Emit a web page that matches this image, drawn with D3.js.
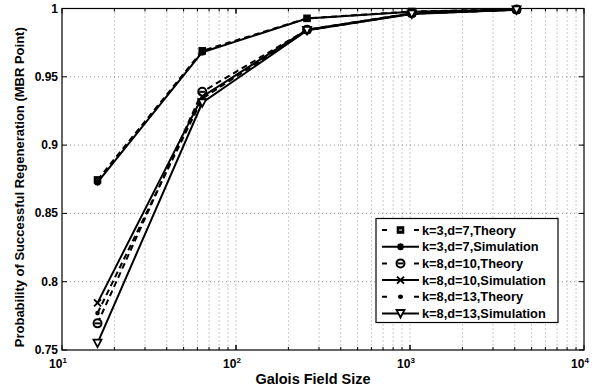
<!DOCTYPE html>
<html lang="en">
<head>
<meta charset="UTF-8">
<title>Probability of Successful Regeneration</title>
<style>
* { margin: 0; padding: 0; box-sizing: border-box; }
body { background: #fff; font-family: "Liberation Sans", Arial, Helvetica, sans-serif; }
svg { display: block; }
.tick-label { font-size: 12px; font-weight: bold; fill: #000; }
.axis-title { font-size: 14.5px; font-weight: bold; fill: #000; }
.y-title { font-size: 13px; font-weight: bold; fill: #000; }
.grid { stroke: #000; stroke-width: 0.6; stroke-dasharray: 1 3; opacity: 0.7; }
.legend-text { font-size: 12.8px; font-weight: bold; fill: #000; }
</style>
</head>
<body>
<div id="chart"></div>
<script src="https://d3js.org/d3.v7.min.js"></script>
<script>
// Galois field sizes (x) and success probabilities per curve
var fieldSizes = [16, 64, 256, 1024, 4096];

var k3d7Theory = [0.8745, 0.969, 0.9928, 0.9978, 0.9994];
var k3d7Sim = [0.8728, 0.968, 0.9926, 0.9977, 0.9994];
var k8d10Theory = [0.7695, 0.9390, 0.9845, 0.9965, 0.9992];
var k8d10Sim = [0.7845, 0.9355, 0.9845, 0.9963, 0.9991];
var k8d13Theory = [0.7770, 0.9340, 0.9840, 0.9962, 0.9991];
var k8d13Sim = [0.7550, 0.9310, 0.9840, 0.9960, 0.9990];

var yTicks = [0.75, 0.8, 0.85, 0.9, 0.95, 1];
var yTickLabels = ["0.75", "0.8", "0.85", "0.9", "0.95", "1"];
var xDecades = [10, 100, 1000, 10000];
var xDecadeExps = ["1", "2", "3", "4"];

var series = [
	{ name: "k=3,d=7,Theory", values: k3d7Theory, dashed: true, marker: "square" },
	{ name: "k=3,d=7,Simulation", values: k3d7Sim, dashed: false, marker: "star" },
	{ name: "k=8,d=10,Theory", values: k8d10Theory, dashed: true, marker: "circle" },
	{ name: "k=8,d=10,Simulation", values: k8d10Sim, dashed: false, marker: "x" },
	{ name: "k=8,d=13,Theory", values: k8d13Theory, dashed: true, marker: "dot" },
	{ name: "k=8,d=13,Simulation", values: k8d13Sim, dashed: false, marker: "tri" }
];

var width = 614, height = 389;
var margin = { top: 8.5, right: 30, bottom: 39, left: 62 };
var plotW = width - margin.left - margin.right;
var plotH = height - margin.top - margin.bottom;

var svg = d3.select("#chart").append("svg")
	.attr("width", width)
	.attr("height", height);

var g = svg.append("g").attr("transform", "translate(" + margin.left + "," + margin.top + ")");

var x = d3.scaleLog().domain([10, 10000]).range([0, plotW]);
var y = d3.scaleLinear().domain([0.75, 1]).range([plotH, 0]);

// Minor + major x grid
var xGridVals = [];
for (var d = 10; d < 10000; d *= 10) {
	for (var m = 1; m <= 9; m++) {
		if (d * m > 10) xGridVals.push(d * m);
	}
}
g.append("g").selectAll("line").data(xGridVals).join("line")
	.attr("class", "grid")
	.attr("x1", function(v) { return x(v); })
	.attr("x2", function(v) { return x(v); })
	.attr("y1", 0).attr("y2", plotH);

g.append("g").selectAll("line").data(yTicks.slice(1, -1)).join("line")
	.attr("class", "grid")
	.attr("x1", 0).attr("x2", plotW)
	.attr("y1", function(v) { return y(v); })
	.attr("y2", function(v) { return y(v); });

// Ticks (inward on all four sides)
var tickG = g.append("g").attr("stroke", "#000").attr("stroke-width", 1);
yTicks.forEach(function(v) {
	tickG.append("line").attr("x1", 0).attr("x2", 5).attr("y1", y(v)).attr("y2", y(v));
	tickG.append("line").attr("x1", plotW).attr("x2", plotW - 5).attr("y1", y(v)).attr("y2", y(v));
});
xGridVals.concat(xDecades).forEach(function(v) {
	var len = xDecades.indexOf(v) >= 0 ? 5 : 3;
	tickG.append("line").attr("x1", x(v)).attr("x2", x(v)).attr("y1", plotH).attr("y2", plotH - len);
	tickG.append("line").attr("x1", x(v)).attr("x2", x(v)).attr("y1", 0).attr("y2", len);
});

// Frame
g.append("rect").attr("x", 0).attr("y", 0).attr("width", plotW).attr("height", plotH)
	.attr("fill", "none").attr("stroke", "#000").attr("stroke-width", 1.2);

// Tick labels
g.append("g").selectAll("text").data(yTicks).join("text")
	.attr("class", "tick-label")
	.attr("x", -4)
	.attr("y", function(v) { return y(v) + 4; })
	.attr("text-anchor", "end")
	.text(function(v, i) { return yTickLabels[i]; });

var xl = g.append("g").selectAll("text").data(xDecades).join("text")
	.attr("class", "tick-label")
	.attr("x", function(v) { return x(v) - 4; })
	.attr("y", plotH + 18)
	.attr("text-anchor", "middle");
xl.append("tspan").text("10");
xl.append("tspan").attr("dy", -5).attr("font-size", 8).text(function(v, i) { return xDecadeExps[i]; });

// Axis titles
svg.append("text").attr("class", "axis-title")
	.attr("x", 313).attr("y", 384)
	.attr("text-anchor", "middle")
	.text("Galois Field Size");

svg.append("text").attr("class", "y-title")
	.attr("transform", "translate(24," + (margin.top + plotH / 2 + 8) + ") rotate(-90)")
	.attr("text-anchor", "middle")
	.text("Probability of Successful Regeneration (MBR Point)");

// Markers
function drawMarker(sel, type, cx, cy) {
	var s = sel.append("g").attr("transform", "translate(" + cx + "," + cy + ")")
		.attr("stroke", "#000").attr("stroke-width", 1.6).attr("fill", "none");
	if (type === "square") {
		s.append("rect").attr("x", -3).attr("y", -3).attr("width", 6).attr("height", 6).attr("fill", "#000");
		s.append("line").attr("x1", -1.5).attr("x2", 1.5).attr("y1", 0).attr("y2", 0).attr("stroke", "#fff").attr("stroke-width", 1);
	} else if (type === "star") {
		s.append("path").attr("d", "M-3.5,0H3.5M0,-3.5V3.5M-2.5,-2.5L2.5,2.5M-2.5,2.5L2.5,-2.5").attr("stroke-width", 2);
	} else if (type === "circle") {
		s.append("circle").attr("r", 4).attr("fill", "#fff").attr("stroke-width", 2);
		s.append("line").attr("x1", -3).attr("x2", 3).attr("y1", 0).attr("y2", 0).attr("stroke-width", 2);
	} else if (type === "x") {
		s.append("path").attr("d", "M-3.5,-3.5L3.5,3.5M-3.5,3.5L3.5,-3.5").attr("stroke-width", 2);
	} else if (type === "dot") {
		s.append("circle").attr("r", 1.5).attr("fill", "#000");
	} else if (type === "tri") {
		s.append("path").attr("d", "M-4,-3.5L4,-3.5L0,4Z").attr("fill", "#fff").attr("stroke-width", 1.8);
	}
}

var line = d3.line()
	.x(function(d, i) { return x(fieldSizes[i]); })
	.y(function(d) { return y(d); });

series.forEach(function(s) {
	g.append("path")
		.datum(s.values)
		.attr("d", line)
		.attr("fill", "none")
		.attr("stroke", "#000")
		.attr("stroke-width", 2)
		.attr("stroke-dasharray", s.dashed ? "6,4" : null);
});
series.forEach(function(s) {
	s.values.forEach(function(v, i) {
		drawMarker(g, s.marker, x(fieldSizes[i]), y(v));
	});
});

// Legend
var legX = 376, legY = 218.5, legW = 182, legH = 104;
var leg = svg.append("g");
leg.append("rect").attr("x", legX).attr("y", legY).attr("width", legW).attr("height", legH)
	.attr("fill", "#fff").attr("stroke", "#000").attr("stroke-width", 1.2);
series.forEach(function(s, i) {
	var cy = legY + 11.5 + i * 16.7;
	leg.append("line")
		.attr("x1", legX + 6).attr("x2", legX + 43)
		.attr("y1", cy).attr("y2", cy)
		.attr("stroke", "#000").attr("stroke-width", 2)
		.attr("stroke-dasharray", s.dashed ? "5,11" : null);
	drawMarker(leg, s.marker, legX + 24.5, cy);
	leg.append("text").attr("class", "legend-text")
		.attr("x", legX + 46).attr("y", cy + 4.5)
		.text(s.name);
});
</script>
</body>
</html>
